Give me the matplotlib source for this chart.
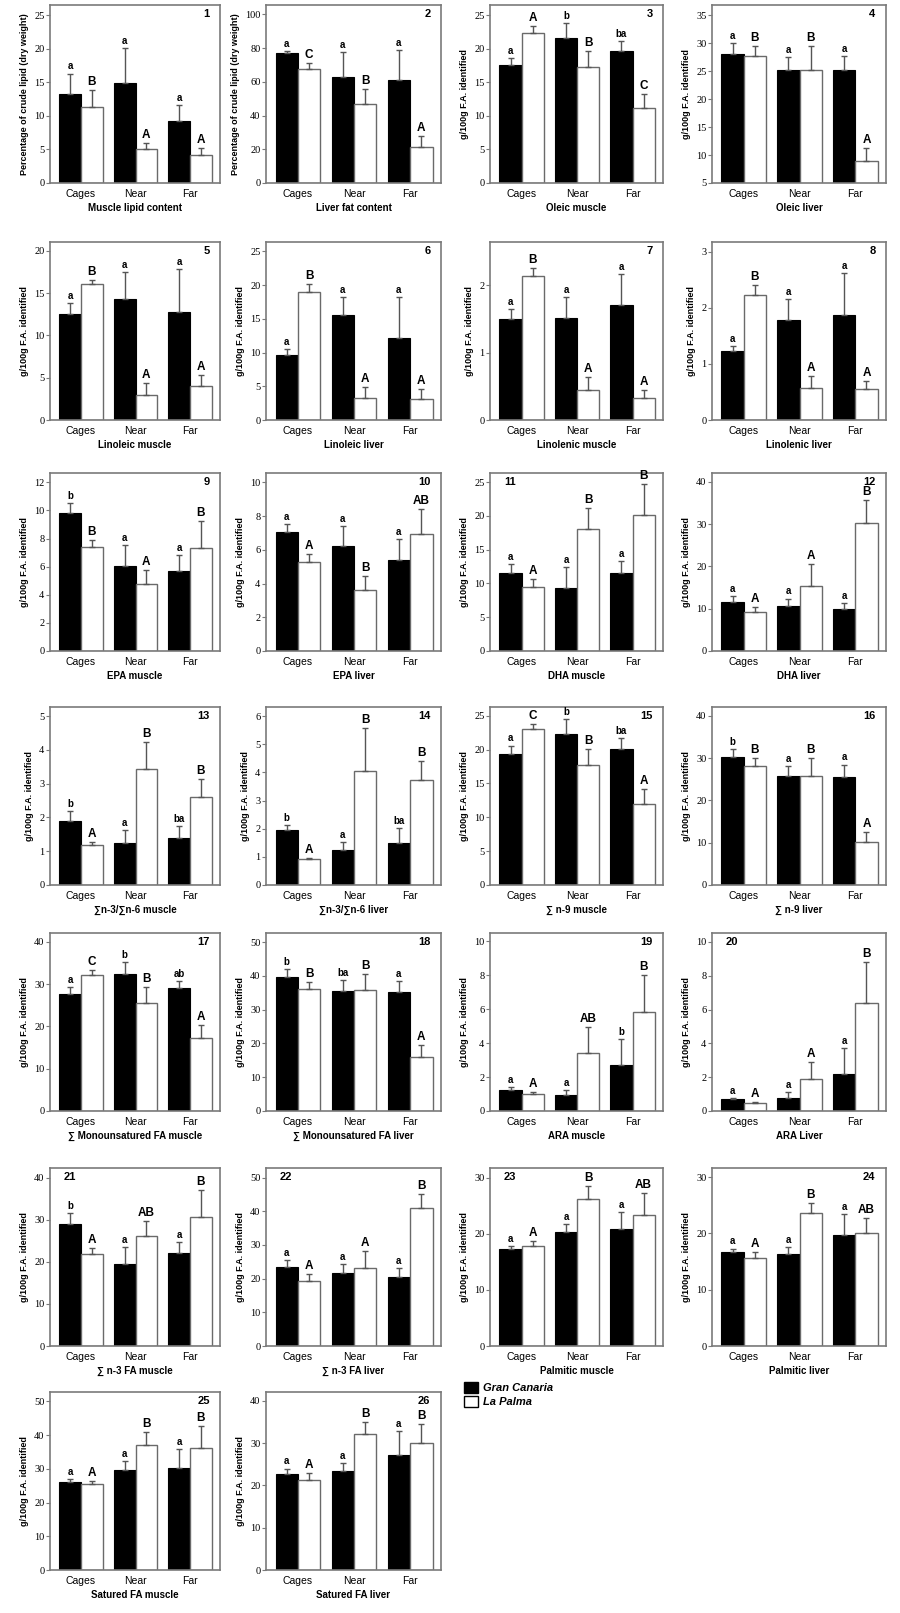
import matplotlib
matplotlib.use("Agg")
import matplotlib.pyplot as plt
from matplotlib.patches import Patch
import numpy as np

plt.rcParams['font.family'] = ['Liberation Sans', 'DejaVu Sans']

sites = ["Cages", "Near", "Far"]

titles = ["Muscle lipid content", "Liver fat content", "Oleic muscle", "Oleic liver",
          "Linoleic muscle", "Linoleic liver", "Linolenic muscle", "Linolenic liver",
          "EPA muscle", "EPA liver", "DHA muscle", "DHA liver",
          "\u2211n-3/\u2211n-6 muscle", "\u2211n-3/\u2211n-6 liver", "\u2211 n-9 muscle", "\u2211 n-9 liver",
          "\u2211 Monounsatured FA muscle", "\u2211 Monounsatured FA liver", "ARA muscle", "ARA Liver",
          "\u2211 n-3 FA muscle", "\u2211 n-3 FA liver", "Palmitic muscle", "Palmitic liver",
          "Satured FA muscle", "Satured FA liver"]

# Gran Canaria (negro)
gc_mean = [[13.3, 14.85, 9.2], [77, 63, 61], [17.5, 21.6, 19.6], [28.05, 25.1, 25.1],
           [12.5, 14.3, 12.75], [9.6, 15.5, 12.1], [1.5, 1.51, 1.7], [1.22, 1.78, 1.87],
           [9.82, 6.08, 5.7], [7.04, 6.21, 5.37], [11.6, 9.31, 11.53], [11.65, 10.6, 10.0],
           [1.9, 1.25, 1.39], [1.96, 1.26, 1.49], [19.4, 22.3, 20.15], [30.3, 25.7, 25.6],
           [27.7, 32.3, 29.0], [39.8, 35.5, 35.1], [1.26, 0.96, 2.73], [0.69, 0.77, 2.19],
           [28.9, 19.6, 22.0], [23.5, 21.65, 20.4], [17.3, 20.3, 20.9], [16.6, 16.4, 19.7],
           [26.0, 29.8, 30.3], [22.6, 23.3, 27.2]]
gc_err = [[3.0, 5.25, 2.4], [1.5, 14.5, 17.7], [1.1, 2.2, 1.6], [1.95, 2.4, 2.5],
          [1.3, 3.15, 5.15], [0.9, 2.7, 6.2], [0.14, 0.32, 0.47], [0.09, 0.37, 0.74],
          [0.68, 1.45, 1.12], [0.47, 1.19, 1.28], [1.26, 3.15, 1.77], [1.25, 1.8, 1.26],
          [0.3, 0.37, 0.35], [0.17, 0.26, 0.52], [1.2, 2.2, 1.6], [1.9, 2.5, 2.9],
          [1.7, 3.0, 1.8], [2.2, 3.3, 3.4], [0.15, 0.3, 1.53], [0.08, 0.35, 1.54],
          [2.7, 4.0, 2.6], [2.1, 2.75, 2.8], [0.5, 1.4, 2.9], [0.7, 1.2, 3.8],
          [1.0, 2.6, 5.5], [1.4, 2.1, 5.6]]
gc_letters = [["a", "a", "a"], ["a", "a", "a"], ["a", "b", "ba"], ["a", "a", "a"],
              ["a", "a", "a"], ["a", "a", "a"], ["a", "a", "a"], ["a", "a", "a"],
              ["b", "a", "a"], ["a", "a", "a"], ["a", "a", "a"], ["a", "a", "a"],
              ["b", "a", "ba"], ["b", "a", "ba"], ["a", "b", "ba"], ["b", "a", "a"],
              ["a", "b", "ab"], ["b", "ba", "a"], ["a", "a", "b"], ["a", "a", "a"],
              ["b", "a", "a"], ["a", "a", "a"], ["a", "a", "a"], ["a", "a", "a"],
              ["a", "a", "a"], ["a", "a", "a"]]

# La Palma (blanco)
lp_mean = [[11.3, 5.0, 4.2], [67.8, 47, 21.5], [22.4, 17.2, 11.2], [27.6, 25.1, 9.0],
           [16.05, 3.0, 4.07], [19.0, 3.2, 3.1], [2.14, 0.45, 0.33], [2.22, 0.57, 0.56],
           [7.38, 4.78, 7.34], [5.27, 3.63, 6.94], [9.46, 18.08, 20.1], [9.13, 15.4, 30.3],
           [1.18, 3.42, 2.6], [0.91, 4.04, 3.73], [23.0, 17.7, 11.9], [28.2, 25.7, 10.1],
           [32.2, 25.6, 17.3], [36.2, 35.8, 16.1], [1.0, 3.4, 5.85], [0.49, 1.91, 6.39],
           [21.9, 26.1, 30.7], [19.4, 23.2, 41.0], [17.8, 26.2, 23.3], [15.7, 23.7, 20.0],
           [25.5, 37.0, 36.1], [21.3, 32.1, 30.0]]
lp_err = [[2.5, 0.9, 1.0], [3.6, 9.0, 6.4], [0.9, 2.5, 2.0], [1.9, 4.4, 2.25],
          [0.55, 1.4, 1.3], [1.2, 1.7, 1.55], [0.11, 0.19, 0.11], [0.19, 0.22, 0.14],
          [0.5, 1.0, 1.89], [0.47, 0.81, 1.48], [1.14, 3.05, 4.58], [1.17, 5.2, 5.3],
          [0.09, 0.82, 0.53], [0.04, 1.54, 0.66], [0.8, 2.45, 2.27], [1.9, 4.3, 2.4],
          [1.2, 3.7, 3.0], [2.1, 4.8, 3.5], [0.12, 1.55, 2.19], [0.06, 0.99, 2.43],
          [1.4, 3.6, 6.3], [2.1, 4.9, 4.1], [0.9, 2.3, 3.9], [1.0, 1.6, 2.7],
          [0.8, 4.0, 6.7], [1.7, 2.9, 4.6]]
lp_letters = [["B", "A", "A"], ["C", "B", "A"], ["A", "B", "C"], ["B", "B", "A"],
              ["B", "A", "A"], ["B", "A", "A"], ["B", "A", "A"], ["B", "A", "A"],
              ["B", "A", "B"], ["A", "B", "AB"], ["A", "B", "B"], ["A", "A", "B"],
              ["A", "B", "B"], ["A", "B", "B"], ["C", "B", "A"], ["B", "B", "A"],
              ["C", "B", "A"], ["B", "B", "A"], ["A", "AB", "B"], ["A", "A", "B"],
              ["A", "AB", "B"], ["A", "A", "B"], ["A", "B", "AB"], ["A", "B", "AB"],
              ["A", "B", "B"], ["A", "B", "B"]]

# ejes y: minimo, maximo, paso de marcas
y_min = [0, 0, 0, 5, 0, 0, 0, 0, 0, 0, 0, 0, 0, 0, 0, 0, 0, 0, 0, 0, 0, 0, 0, 0, 0, 0]
y_max = [26.5, 105.6, 26.5, 36.8, 21.05, 26.4, 2.64, 3.17, 12.66, 10.55, 26.35, 42.1,
         5.27, 6.32, 26.3, 42.1, 42.1, 52.7, 10.5, 10.53, 42.3, 52.85, 31.7, 31.6, 52.8, 42.1]
y_step = [5, 20, 5, 5, 5, 5, 1, 1, 2, 2, 5, 10, 1, 1, 5, 10, 10, 10, 2, 2, 10, 10, 10, 10, 10, 10]

left_number = [11, 20, 21, 22, 23]

W, H = 900, 1613
fig = plt.figure(figsize=(W / 100, H / 100), dpi=100)

col_left = [50, 266, 490, 712]
col_w = [170, 175, 173, 174]
row_top = [5, 242, 473, 707, 933, 1168, 1392]
ax_h = 178

edge = '#7a7a7a'
x = np.arange(3)
bw = 0.4

for i in range(26):
    r, c = divmod(i, 4)
    ax = fig.add_axes([col_left[c] / W, 1 - (row_top[r] + ax_h) / H, col_w[c] / W, ax_h / H])

    ax.bar(x - bw / 2, gc_mean[i], bw, color='black', edgecolor='black', linewidth=0.8)
    ax.bar(x + bw / 2, lp_mean[i], bw, color='white', edgecolor='#6a6a6a', linewidth=1.0)
    ax.errorbar(x - bw / 2, gc_mean[i], yerr=[[0, 0, 0], gc_err[i]], fmt='none',
                ecolor='#555555', elinewidth=1.0, capsize=2.5, capthick=1.0)
    ax.errorbar(x + bw / 2, lp_mean[i], yerr=[[0, 0, 0], lp_err[i]], fmt='none',
                ecolor='#555555', elinewidth=1.0, capsize=2.5, capthick=1.0)

    for k in range(3):
        ax.annotate(gc_letters[i][k], (x[k] - bw / 2, gc_mean[i][k] + gc_err[i][k]),
                    xytext=(0, 1.5), textcoords='offset points', ha='center', va='bottom',
                    fontsize=7, fontweight='bold')
        ax.annotate(lp_letters[i][k], (x[k] + bw / 2, lp_mean[i][k] + lp_err[i][k]),
                    xytext=(0, 1.5), textcoords='offset points', ha='center', va='bottom',
                    fontsize=8.5, fontweight='bold')

    ax.set_xlim(-0.57, 2.55)
    ax.set_ylim(y_min[i], y_max[i])
    ticks = np.arange(y_min[i], y_max[i] + 1e-9, y_step[i])
    ax.set_yticks(ticks)
    ax.set_yticklabels([f"{t:g}" for t in ticks], family='Liberation Serif', fontsize=7.5)
    ax.set_xticks(x)
    ax.set_xticklabels(sites, fontsize=7.5)
    ax.tick_params(axis='x', length=0, pad=4)
    ax.tick_params(axis='y', length=3, width=0.8, color=edge, pad=1)
    for s in ax.spines.values():
        s.set_color(edge)
        s.set_linewidth(1.2)

    ax.set_xlabel(titles[i], fontsize=7, fontweight='bold', labelpad=3)
    if i < 2:
        ax.set_ylabel("Percentage of crude lipid (dry weight)", fontsize=6.5, fontweight='bold', labelpad=4)
    else:
        ax.set_ylabel("g/100g F.A. identified", fontsize=6.5, fontweight='bold', labelpad=4)

    if i + 1 in left_number:
        ax.text(0.08, 0.975, str(i + 1), transform=ax.transAxes, ha='left', va='top',
                fontsize=8, fontweight='bold')
    else:
        ax.text(0.94, 0.975, str(i + 1), transform=ax.transAxes, ha='right', va='top',
                fontsize=8, fontweight='bold')

handles = [Patch(facecolor='black', edgecolor='black', label='Gran Canaria'),
           Patch(facecolor='white', edgecolor='black', label='La Palma')]
fig.legend(handles=handles, loc='upper left', bbox_to_anchor=(464 / W, 1 - 1382 / H),
           frameon=False, prop={'weight': 'bold', 'style': 'italic', 'size': 8},
           handlelength=1.3, handleheight=1.1, handletextpad=0.4, labelspacing=0.25,
           borderaxespad=0, borderpad=0)

fig.savefig("out.png", dpi=100)
